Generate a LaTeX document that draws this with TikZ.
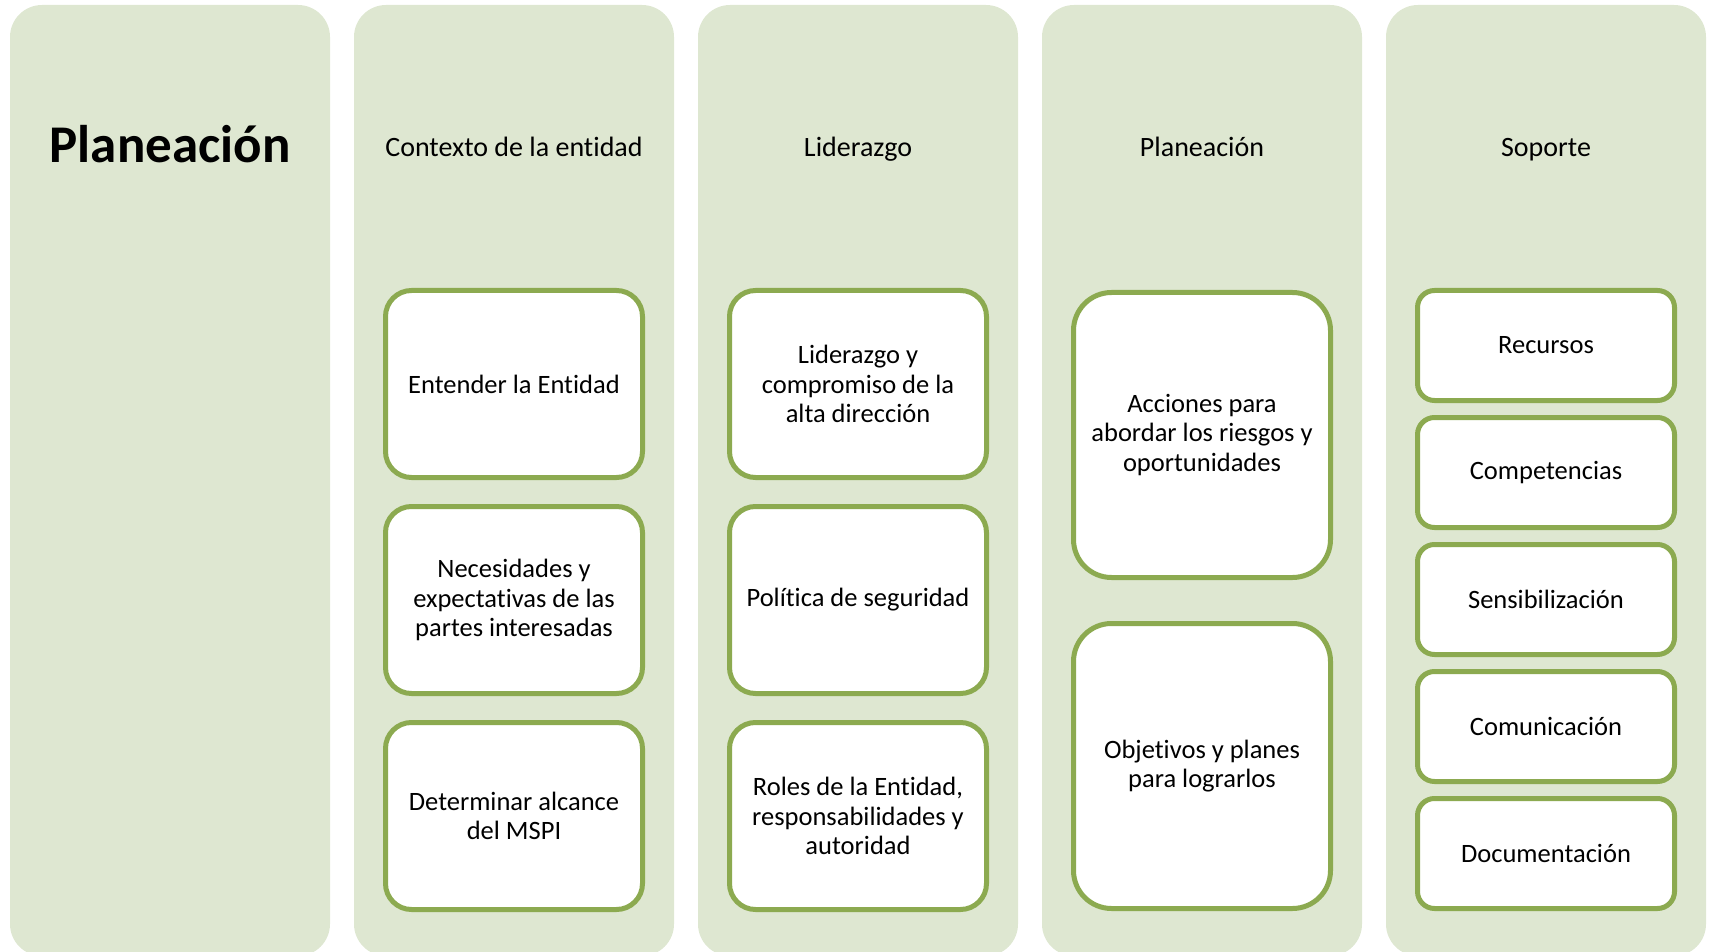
\documentclass[tikz,border=0pt]{standalone}
\usepackage{fontspec}
\setmainfont{Carlito}[Ligatures=NoCommon]
\definecolor{panelfill}{RGB}{222,231,209}
\definecolor{boxline}{RGB}{140,170,80}
\begin{document}
\begin{tikzpicture}[x=1pt,y=-1pt,
  panel/.style={fill=panelfill, draw=none, rounded corners=32pt, minimum width=320pt, minimum height=951pt, inner sep=0pt},
  head/.style={font=\fontsize{28}{30}\selectfont, anchor=base, text=black},
  title/.style={font=\fontsize{53}{56}\selectfont\bfseries, anchor=base, text=black},
  tbox/.style={draw=boxline, line width=5pt, fill=white, align=center, inner sep=0pt,
    font=\fontsize{26.5}{29.5}\selectfont, text=black, minimum width=257pt},
  bigbox/.style={tbox, minimum height=187pt, rounded corners=26pt},
  tallbox/.style={tbox, minimum height=285pt, rounded corners=38pt},
  smallbox/.style={tbox, minimum height=110pt, rounded corners=17pt}]
\useasboundingbox (0,0) rectangle (1709,952);
\clip (0,0) rectangle (1709,952);
% panels
\node[panel] (p1) at (170,480.5) {};
\node[panel] (p2) at (514,480.5) {};
\node[panel] (p3) at (858,480.5) {};
\node[panel] (p4) at (1202,480.5) {};
\node[panel] (p5) at (1546,480.5) {};
% headings
\node[title] (t1) at (170,163) {Planeación};
\node[head] (h2) at (514,157) {Contexto de la entidad};
\node[head] (h3) at (858,157) {Liderazgo};
\node[head] (h4) at (1202,157) {Planeación};
\node[head] (h5) at (1546,157) {Soporte};
% column 2
\node[bigbox] (c2a) at (514,384) {Entender la Entidad};
\node[bigbox] (c2b) at (514,600) {Necesidades y\\expectativas de las\\partes interesadas};
\node[bigbox] (c2c) at (514,816) {Determinar alcance\\del MSPI};
% column 3
\node[bigbox] (c3a) at (858,384) {Liderazgo y\\compromiso de la\\alta dirección};
\node[bigbox] (c3b) at (858,600) {Política de seguridad};
\node[bigbox] (c3c) at (858,816) {Roles de la Entidad,\\responsabilidades y\\autoridad};
% column 4
\node[tallbox] (c4a) at (1202,435) {Acciones para\\abordar los riesgos y\\oportunidades};
\node[tallbox] (c4b) at (1202,766) {Objetivos y planes\\para lograrlos};
% column 5
\node[smallbox] (c5a) at (1546,345.5) {Recursos};
\node[smallbox] (c5b) at (1546,472.5) {Competencias};
\node[smallbox] (c5c) at (1546,599.5) {Sensibilización};
\node[smallbox] (c5d) at (1546,726.5) {Comunicación};
\node[smallbox] (c5e) at (1546,853.5) {Documentación};
\end{tikzpicture}
\end{document}
